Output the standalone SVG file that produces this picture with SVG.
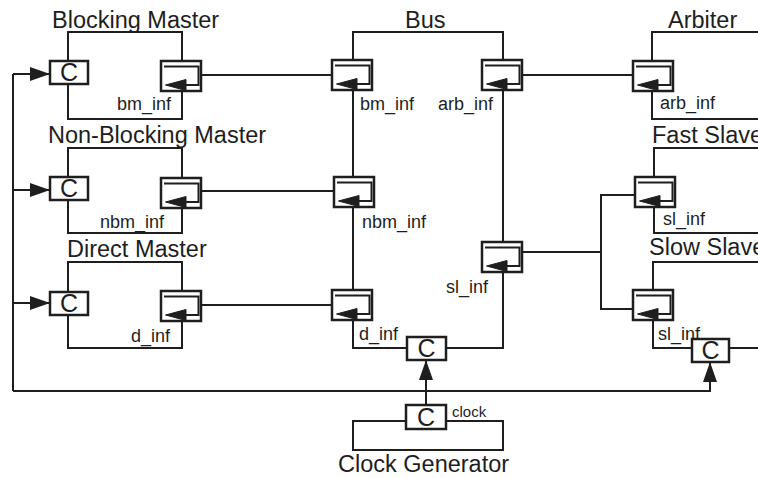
<svg xmlns="http://www.w3.org/2000/svg" width="758" height="478" viewBox="0 0 758 478">
<style>
  .box { fill: none; stroke: #1e1e1e; stroke-width: 2; }
  .wire { fill: none; stroke: #1e1e1e; stroke-width: 2; }
  .pframe { fill: #fff; stroke: #1e1e1e; stroke-width: 2.5; }
  .pin { fill: none; stroke: #1e1e1e; stroke-width: 2; }
  .ah { fill: #1e1e1e; stroke: #1e1e1e; stroke-width: 1; }
  .title { font-family: "Liberation Sans", Arial, sans-serif; font-size: 23.5px; fill: #1e1e1e; }
  .lbl { font-family: "Liberation Sans", Arial, sans-serif; font-size: 18px; fill: #1e1e1e; }
  .small { font-family: "Liberation Sans", Arial, sans-serif; font-size: 15px; fill: #1e1e1e; }
  .cl { font-family: "Liberation Sans", Arial, sans-serif; font-size: 25px; fill: #1e1e1e; text-anchor: middle; }
</style>
<defs>
  <marker id="arr" markerWidth="20" markerHeight="14" refX="20" refY="7" orient="auto" markerUnits="userSpaceOnUse">
    <polygon points="0,0 20,7 0,14" fill="#1e1e1e"/>
  </marker>
</defs>
<rect width="758" height="478" fill="#fff"/>

<g id="connectors">
  <path class="wire" d="M201,75 H332"/>
  <path class="wire" d="M522,75 H633"/>
  <path class="wire" d="M201,191 H334"/>
  <path class="wire" d="M201,305 H332"/>
  <path class="wire" d="M522,252 H601"/>
  <path class="wire" d="M635,195 H601 V309 H633"/>
  <path class="wire" d="M13,391 V74"/>
  <path class="wire" d="M13,74 H50" marker-end="url(#arr)"/>
  <path class="wire" d="M13,190 H50" marker-end="url(#arr)"/>
  <path class="wire" d="M13,303 H50" marker-end="url(#arr)"/>
  <path class="wire" d="M13,391 H710 V362" marker-end="url(#arr)"/>
  <path class="wire" d="M426,405 V360" marker-end="url(#arr)"/>
</g>

<g id="blocking-master">
  <rect class="box" x="68" y="32" width="114" height="87"/>
  <text class="title" x="52" y="28">Blocking Master</text>
  <rect class="pframe" x="50" y="61" width="38" height="23"/>
  <text class="cl" x="69" y="81">C</text>
  <g transform="translate(161,61)"><rect class="pframe" width="40" height="30"/><path class="pin" d="M3,5.5 H37.5 V24 H20"/><path class="ah" d="M4.5,24 L25,18.5 L25,29.5 Z"/></g>
  <text class="lbl" x="117" y="110">bm_inf</text>
</g>

<g id="non-blocking-master">
  <rect class="box" x="68" y="148" width="114" height="85"/>
  <text class="title" x="48" y="143">Non-Blocking Master</text>
  <rect class="pframe" x="50" y="177" width="38" height="23"/>
  <text class="cl" x="69" y="197">C</text>
  <g transform="translate(161,178)"><rect class="pframe" width="40" height="30"/><path class="pin" d="M3,5.5 H37.5 V24 H20"/><path class="ah" d="M4.5,24 L25,18.5 L25,29.5 Z"/></g>
  <text class="lbl" x="100" y="228">nbm_inf</text>
</g>

<g id="direct-master">
  <rect class="box" x="68" y="262" width="114" height="86"/>
  <text class="title" x="67" y="257">Direct Master</text>
  <rect class="pframe" x="50" y="292" width="38" height="23"/>
  <text class="cl" x="69" y="312">C</text>
  <g transform="translate(161,291)"><rect class="pframe" width="40" height="30"/><path class="pin" d="M3,5.5 H37.5 V24 H20"/><path class="ah" d="M4.5,24 L25,18.5 L25,29.5 Z"/></g>
  <text class="lbl" x="131" y="342">d_inf</text>
</g>

<g id="bus">
  <rect class="box" x="353" y="32" width="150" height="316"/>
  <text class="title" x="405" y="28">Bus</text>
  <g transform="translate(332,60)"><rect class="pframe" width="40" height="30"/><path class="pin" d="M3,5.5 H37.5 V24 H20"/><path class="ah" d="M4.5,24 L25,18.5 L25,29.5 Z"/></g>
  <g transform="translate(334,177)"><rect class="pframe" width="40" height="30"/><path class="pin" d="M3,5.5 H37.5 V24 H20"/><path class="ah" d="M4.5,24 L25,18.5 L25,29.5 Z"/></g>
  <g transform="translate(332,290)"><rect class="pframe" width="40" height="30"/><path class="pin" d="M3,5.5 H37.5 V24 H20"/><path class="ah" d="M4.5,24 L25,18.5 L25,29.5 Z"/></g>
  <g transform="translate(482,60)"><rect class="pframe" width="40" height="30"/><path class="pin" d="M3,5.5 H37.5 V24 H20"/><path class="ah" d="M4.5,24 L25,18.5 L25,29.5 Z"/></g>
  <g transform="translate(482,242)"><rect class="pframe" width="40" height="30"/><path class="pin" d="M3,5.5 H37.5 V24 H20"/><path class="ah" d="M4.5,24 L25,18.5 L25,29.5 Z"/></g>
  <rect class="pframe" x="407" y="337" width="39" height="23"/>
  <text class="cl" x="426.5" y="357">C</text>
  <text class="lbl" x="360" y="110">bm_inf</text>
  <text class="lbl" x="438" y="110">arb_inf</text>
  <text class="lbl" x="362" y="228">nbm_inf</text>
  <text class="lbl" x="446" y="293">sl_inf</text>
  <text class="lbl" x="359" y="340">d_inf</text>
</g>

<g id="arbiter">
  <path class="box" d="M770,32 H652 V119 H770"/>
  <text class="title" x="668" y="28">Arbiter</text>
  <g transform="translate(633,61)"><rect class="pframe" width="40" height="30"/><path class="pin" d="M3,5.5 H37.5 V24 H20"/><path class="ah" d="M4.5,24 L25,18.5 L25,29.5 Z"/></g>
  <text class="lbl" x="660" y="109">arb_inf</text>
</g>

<g id="fast-slave">
  <path class="box" d="M770,148 H654 V233 H770"/>
  <text class="title" x="652" y="143">Fast Slave</text>
  <g transform="translate(635,177)"><rect class="pframe" width="40" height="30"/><path class="pin" d="M3,5.5 H37.5 V24 H20"/><path class="ah" d="M4.5,24 L25,18.5 L25,29.5 Z"/></g>
  <text class="lbl" x="663" y="225">sl_inf</text>
</g>

<g id="slow-slave">
  <path class="box" d="M770,262 H653 V348 H770"/>
  <text class="title" x="649" y="255">Slow Slave</text>
  <g transform="translate(633,290)"><rect class="pframe" width="40" height="30"/><path class="pin" d="M3,5.5 H37.5 V24 H20"/><path class="ah" d="M4.5,24 L25,18.5 L25,29.5 Z"/></g>
  <text class="lbl" x="658" y="340">sl_inf</text>
  <rect class="pframe" x="692" y="339" width="37" height="23"/>
  <text class="cl" x="710.5" y="359">C</text>
</g>

<g id="clock-generator">
  <rect class="box" x="353" y="421" width="150" height="29"/>
  <rect class="pframe" x="406" y="405" width="40" height="24"/>
  <text class="cl" x="426" y="426">C</text>
  <text class="small" x="452" y="417">clock</text>
  <text class="title" x="338" y="472">Clock Generator</text>
</g>
</svg>
